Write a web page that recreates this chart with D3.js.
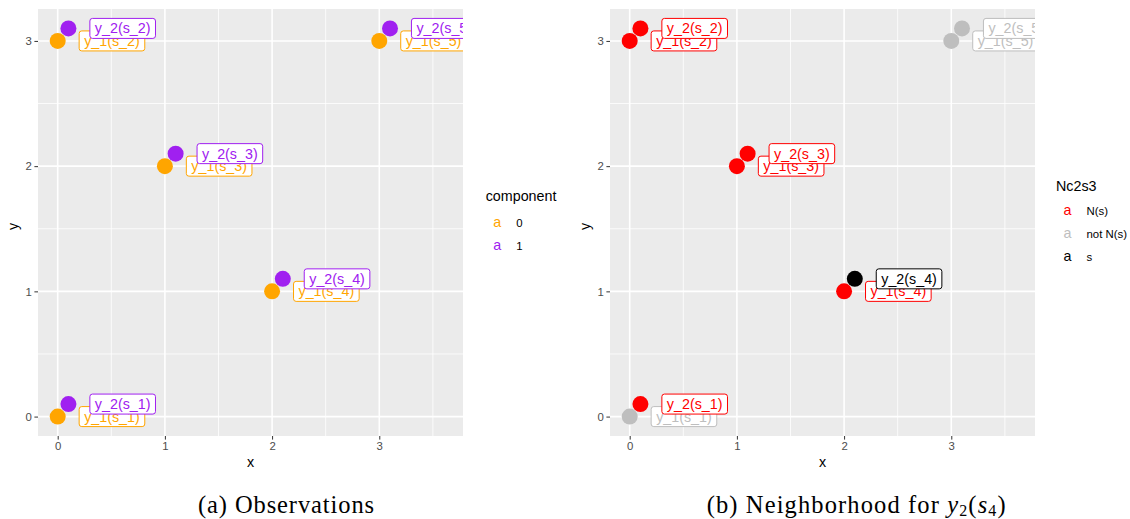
<!DOCTYPE html>
<html>
<head>
<meta charset="utf-8">
<script src="https://cdn.jsdelivr.net/npm/d3@7"></script>
<style>
  html, body { margin: 0; padding: 0; background: #ffffff; }
  svg { display: block; }
</style>
</head>
<body>
<svg id="chart" width="1130" height="519"></svg>
<script>
// ---- data ----
const obsX = [0, 0, 1, 2, 3, 0.1, 0.1, 1.1, 2.1, 3.1];
const obsY = [0, 3, 2, 1, 3, 0.1, 3.1, 2.1, 1.1, 3.1];
const component = ["0", "0", "0", "0", "0", "1", "1", "1", "1", "1"];
const obsLabels = ["y_1(s_1)", "y_1(s_2)", "y_1(s_3)", "y_1(s_4)", "y_1(s_5)",
                   "y_2(s_1)", "y_2(s_2)", "y_2(s_3)", "y_2(s_4)", "y_2(s_5)"];
const nc2s3 = ["not N(s)", "N(s)", "N(s)", "N(s)", "not N(s)",
               "N(s)", "N(s)", "N(s)", "s", "not N(s)"];

const componentLevels = ["0", "1"];
const componentColors = ["#FFA500", "#A020F0"];
const nc2s3Levels = ["N(s)", "not N(s)", "s"];
const nc2s3Colors = ["#FF0000", "#BEBEBE", "#000000"];

const xTicks = [0, 1, 2, 3];
const yTicks = [0, 1, 2, 3];
const xMinor = [0.5, 1.5, 2.5, 3.5];
const yMinor = [0.5, 1.5, 2.5];
const labelNudge = 0.2;

const points = obsX.map((x, i) => ({
  x, y: obsY[i], component: component[i], label: obsLabels[i], group: nc2s3[i]
}));

// ---- layout ----
const svg = d3.select("#chart");
const panelW = 425, panelH = 427, panelTop = 9;
const sansFont = "'Liberation Sans', Arial, Helvetica, sans-serif";

const x = d3.scaleLinear().domain([-0.1838, 3.781]).range([0, panelW]);
const y = d3.scaleLinear().domain([-0.155, 3.255]).range([panelH, 0]);

function drawPanel(id, left, colorOf, legend, caption) {
  const g = svg.append("g").attr("transform", `translate(${left},${panelTop})`);

  g.append("rect").attr("width", panelW).attr("height", panelH).attr("fill", "#EBEBEB");

  // grid
  g.selectAll(".vminor").data(xMinor).join("line")
    .attr("x1", d => x(d)).attr("x2", d => x(d)).attr("y1", 0).attr("y2", panelH)
    .attr("stroke", "#ffffff").attr("stroke-width", 0.8);
  g.selectAll(".hminor").data(yMinor).join("line")
    .attr("y1", d => y(d)).attr("y2", d => y(d)).attr("x1", 0).attr("x2", panelW)
    .attr("stroke", "#ffffff").attr("stroke-width", 0.8);
  g.selectAll(".vmajor").data(xTicks).join("line")
    .attr("x1", d => x(d)).attr("x2", d => x(d)).attr("y1", 0).attr("y2", panelH)
    .attr("stroke", "#ffffff").attr("stroke-width", 1.6);
  g.selectAll(".hmajor").data(yTicks).join("line")
    .attr("y1", d => y(d)).attr("y2", d => y(d)).attr("x1", 0).attr("x2", panelW)
    .attr("stroke", "#ffffff").attr("stroke-width", 1.6);

  // axes
  const fmt = d3.format("d");
  const xAxis = d3.axisBottom(x).tickValues(xTicks).tickFormat(fmt).tickSize(3.6).tickPadding(2.5);
  const yAxis = d3.axisLeft(y).tickValues(yTicks).tickFormat(fmt).tickSize(3.6).tickPadding(2.5);
  const gx = g.append("g").attr("transform", `translate(0,${panelH})`).call(xAxis);
  const gy = g.append("g").call(yAxis);
  [gx, gy].forEach(a => {
    a.select(".domain").remove();
    a.selectAll(".tick line").attr("stroke", "#333333").attr("stroke-width", 1);
    a.selectAll(".tick text").attr("fill", "#4D4D4D")
      .style("font-family", sansFont).style("font-size", "11.4px");
  });

  // axis titles
  g.append("text").attr("x", panelW / 2).attr("y", 458).attr("text-anchor", "middle")
    .style("font-family", sansFont).style("font-size", "14.3px").attr("fill", "#000")
    .text("x");
  g.append("text").attr("transform", `translate(-20,${panelH / 2 + 4}) rotate(-90)`)
    .attr("text-anchor", "middle")
    .style("font-family", sansFont).style("font-size", "14.3px").attr("fill", "#000")
    .text("y");

  // clip for marks
  svg.append("clipPath").attr("id", id).append("rect")
    .attr("x", left).attr("y", panelTop).attr("width", panelW).attr("height", panelH);
  const marks = svg.append("g").attr("clip-path", `url(#${id})`)
    .append("g").attr("transform", `translate(${left},${panelTop})`);

  marks.selectAll("circle").data(points).join("circle")
    .attr("cx", d => x(d.x)).attr("cy", d => y(d.y)).attr("r", 8)
    .attr("fill", d => colorOf(d));

  // labels
  points.forEach(d => {
    const lg = marks.append("g");
    const rect = lg.append("rect");
    const t = lg.append("text")
      .attr("x", x(d.x + labelNudge) + 5).attr("y", y(d.y) + 5)
      .style("font-family", sansFont).style("font-size", "14.3px")
      .attr("fill", colorOf(d)).text(d.label);
    const w = t.node().getComputedTextLength() + 10;
    rect.attr("x", x(d.x + labelNudge)).attr("y", y(d.y) - 10)
      .attr("width", w).attr("height", 20).attr("rx", 2.6)
      .attr("fill", "#ffffff").attr("stroke", colorOf(d)).attr("stroke-width", 1);
  });

  // legend
  const lgX = left + panelW + legend.dx;
  svg.append("text").attr("x", lgX).attr("y", legend.titleY)
    .style("font-family", sansFont).style("font-size", "14.3px").attr("fill", "#000")
    .text(legend.title);
  legend.levels.forEach((lev, i) => {
    const yy = legend.firstY + i * 23;
    svg.append("text").attr("x", lgX + 11.5).attr("y", yy).attr("text-anchor", "middle")
      .style("font-family", sansFont).style("font-size", "14.3px")
      .attr("fill", legend.colors[i]).text("a");
    svg.append("text").attr("x", lgX + 30.5).attr("y", yy)
      .style("font-family", sansFont).style("font-size", "11.4px").attr("fill", "#000")
      .text(lev);
  });

  // caption
  const cap = svg.append("text").attr("y", 512.5)
    .style("font-family", "'Liberation Serif', 'Times New Roman', serif")
    .style("font-size", "24.5px").attr("fill", "#000");
  caption.parts.forEach(p => {
    const ts = cap.append("tspan").text(p.t);
    if (p.it) ts.style("font-style", "italic");
    if (p.sub) ts.style("font-size", "16px").attr("dy", 3);
    if (p.up) ts.attr("dy", -3);
  });
  const natural = cap.node().getComputedTextLength();
  const nChars = caption.parts.map(p => p.t).join("").length;
  const ls = Math.max(0, (caption.width - natural) / nChars);
  cap.style("letter-spacing", ls + "px");
  cap.attr("x", caption.cx - caption.width / 2);
}

drawPanel("clipA", 38,
  d => componentColors[componentLevels.indexOf(d.component)],
  { dx: 22.7, title: "component", titleY: 201, firstY: 226.5,
    levels: componentLevels, colors: componentColors },
  { cx: 286.5, width: 177, parts: [{ t: "(a) Observations" }] });

drawPanel("clipB", 610,
  d => nc2s3Colors[nc2s3Levels.indexOf(d.group)],
  { dx: 21, title: "Nc2s3", titleY: 190.5, firstY: 215,
    levels: nc2s3Levels, colors: nc2s3Colors },
  { cx: 856.7, width: 300, parts: [
    { t: "(b) Neighborhood for " }, { t: "y", it: true }, { t: "2", sub: true },
    { t: "(", up: true }, { t: "s", it: true }, { t: "4", sub: true }, { t: ")", up: true }
  ] });
</script>
</body>
</html>
